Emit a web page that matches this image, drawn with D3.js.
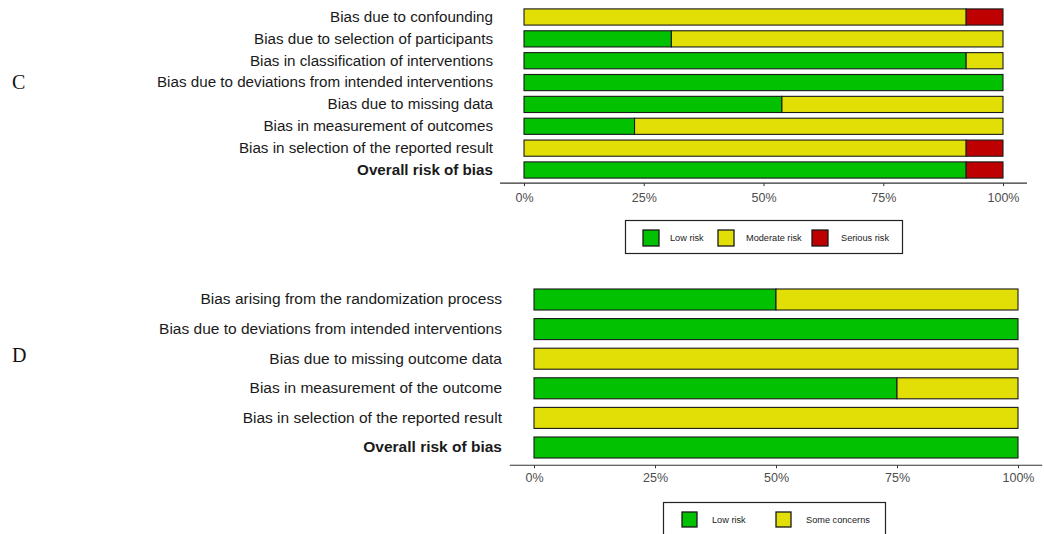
<!DOCTYPE html>
<html>
<head>
<meta charset="utf-8">
<script src="https://cdn.jsdelivr.net/npm/d3@7"></script>
<style>
  html, body { margin: 0; padding: 0; background: #fff; }
  svg { display: block; }
</style>
</head>
<body>
<svg id="chart" width="1044" height="534"></svg>
<script>
// Panel C: ROBINS-I domains, number of studies per judgement (13 studies)
const domainsC = [
  "Bias due to confounding",
  "Bias due to selection of participants",
  "Bias in classification of interventions",
  "Bias due to deviations from intended interventions",
  "Bias due to missing data",
  "Bias in measurement of outcomes",
  "Bias in selection of the reported result",
  "Overall risk of bias"
];
const lowC      = [0, 4, 12, 13, 7, 3, 0, 12];
const moderateC = [12, 9, 1, 0, 6, 10, 12, 0];
const seriousC  = [1, 0, 0, 0, 0, 0, 1, 1];
const levelsC = ["Low risk", "Moderate risk", "Serious risk"];

// Panel D: RoB 2 domains, number of trials per judgement (4 trials)
const domainsD = [
  "Bias arising from the randomization process",
  "Bias due to deviations from intended interventions",
  "Bias due to missing outcome data",
  "Bias in measurement of the outcome",
  "Bias in selection of the reported result",
  "Overall risk of bias"
];
const lowD  = [2, 4, 0, 3, 0, 4];
const someD = [2, 0, 4, 1, 4, 0];
const levelsD = ["Low risk", "Some concerns"];

const tickValues = [0, 0.25, 0.5, 0.75, 1];
const colours = { "Low risk": "#02C100", "Moderate risk": "#E2DF07", "Some concerns": "#E2DF07", "Serious risk": "#BF0000" };

const svg = d3.select("#chart");
svg.append("rect").attr("width", 1044).attr("height", 534).attr("fill", "#fff");

function drawPanel(opt) {
  const g = svg.append("g");
  // proportions per domain
  const rows = opt.domains.map((d, i) => {
    const row = { domain: d };
    let total = 0;
    opt.series.forEach(s => { total += s.values[i]; });
    opt.series.forEach(s => { row[s.name] = s.values[i] / total; });
    return row;
  });
  const keys = opt.series.map(s => s.name);
  const stacked = d3.stack().keys(keys)(rows);

  const x = d3.scaleLinear().domain([0, 1]).range([opt.x0, opt.x1]);
  const step = (opt.yLast - opt.yFirst) / (opt.domains.length - 1);
  const y = d3.scaleBand().domain(opt.domains)
    .range([opt.yFirst - step / 2, opt.yLast + step / 2])
    .paddingInner(opt.pad).paddingOuter(opt.pad / 2);

  stacked.forEach(layer => {
    g.append("g").selectAll("rect")
      .data(layer.filter(d => d[1] - d[0] > 0))
      .join("rect")
      .attr("x", d => x(d[0]))
      .attr("width", d => x(d[1]) - x(d[0]))
      .attr("y", d => y(d.data.domain))
      .attr("height", y.bandwidth())
      .attr("fill", colours[layer.key])
      .attr("stroke", "#1a1a1a")
      .attr("stroke-width", 1.1);
  });

  // category labels
  const yAxis = d3.axisLeft(y).tickSize(0).tickPadding(0);
  const ya = g.append("g").attr("transform", `translate(${opt.labelX},0)`).call(yAxis);
  ya.select(".domain").remove();
  ya.selectAll("text")
    .attr("font-family", "Liberation Sans, Arial, sans-serif")
    .attr("font-size", opt.labelSize)
    .attr("fill", "#1a1a1a")
    .attr("font-weight", d => d === "Overall risk of bias" ? "bold" : "normal");

  // x axis
  const axisY = opt.yLast + step * 0.6;
  const xa = g.append("g").attr("transform", `translate(0,${axisY})`)
    .call(d3.axisBottom(x).tickValues(tickValues).tickFormat(d3.format(".0%")).tickSizeInner(3).tickSizeOuter(0).tickPadding(opt.tickPad));
  xa.select(".domain").remove();
  xa.append("line")
    .attr("x1", x(-0.05)).attr("x2", x(1.05))
    .attr("stroke", "#333").attr("stroke-width", 1.1);
  xa.selectAll(".tick line").attr("stroke", "#333");
  xa.selectAll("text")
    .attr("font-family", "Liberation Sans, Arial, sans-serif")
    .attr("font-size", 12.5)
    .attr("fill", "#4d4d4d");

  // panel letter
  g.append("text")
    .attr("x", 12).attr("y", opt.letterY)
    .attr("font-family", "Liberation Serif, Times New Roman, serif")
    .attr("font-size", 20)
    .attr("fill", "#111")
    .text(opt.letter);

  // legend
  const lg = g.append("g");
  lg.append("rect")
    .attr("x", opt.legend.x).attr("y", opt.legend.y)
    .attr("width", opt.legend.w).attr("height", opt.legend.h)
    .attr("fill", "#fff").attr("stroke", "#222").attr("stroke-width", 1.2);
  opt.legend.items.forEach((it, i) => {
    const name = opt.levels[i];
    lg.append("rect")
      .attr("x", it.key).attr("y", opt.legend.keyY)
      .attr("width", opt.legend.keySize).attr("height", opt.legend.keySize)
      .attr("fill", colours[name]).attr("stroke", "#1a1a1a").attr("stroke-width", 1.3);
    lg.append("text")
      .attr("x", it.text).attr("y", opt.legend.keyY + opt.legend.keySize / 2)
      .attr("dy", "0.35em")
      .attr("font-family", "Liberation Sans, Arial, sans-serif")
      .attr("font-size", 9.2)
      .attr("fill", "#222")
      .text(name);
  });
}

drawPanel({
  domains: domainsC,
  series: [
    { name: levelsC[0], values: lowC },
    { name: levelsC[1], values: moderateC },
    { name: levelsC[2], values: seriousC }
  ],
  levels: levelsC,
  x0: 524, x1: 1003,
  yFirst: 17, yLast: 170, pad: 0.26,
  labelX: 493, labelSize: 15.2, tickPad: 7,
  letter: "C", letterY: 89,
  legend: {
    x: 625.5, y: 220.5, w: 277, h: 33, keyY: 230, keySize: 16,
    items: [{ key: 643, text: 670 }, { key: 718, text: 746 }, { key: 812, text: 841 }]
  }
});

drawPanel({
  domains: domainsD,
  series: [
    { name: levelsD[0], values: lowD },
    { name: levelsD[1], values: someD }
  ],
  levels: levelsD,
  x0: 534, x1: 1018,
  yFirst: 299.5, yLast: 447.5, pad: 0.29,
  labelX: 502, labelSize: 15.5, tickPad: 5,
  letter: "D", letterY: 362,
  legend: {
    x: 663.5, y: 502.5, w: 222, h: 40, keyY: 512, keySize: 15,
    items: [{ key: 682, text: 712 }, { key: 776, text: 806 }]
  }
});
</script>
</body>
</html>
